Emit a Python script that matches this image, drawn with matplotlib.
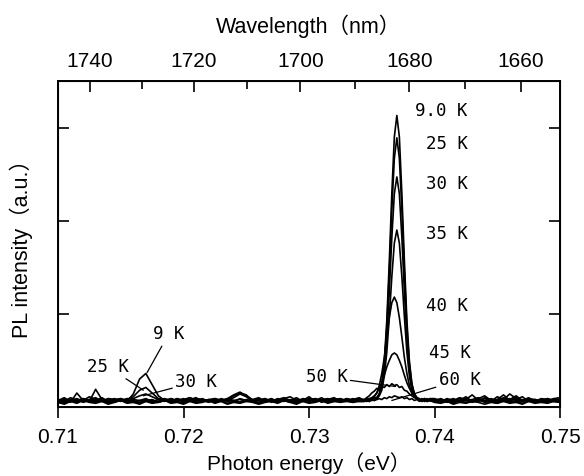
import numpy as np
import matplotlib
matplotlib.use("Agg")
import matplotlib.pyplot as plt

# energy sample grids (eV)
e_low = np.round(np.arange(0.7100, 0.73401, 0.0005), 4)    # 49 pts
e_peak = np.round(np.arange(0.7344, 0.73961, 0.0002), 4)   # 27 pts
e_high = np.round(np.arange(0.7400, 0.75001, 0.0005), 4)   # 21 pts

temps = ["9.0 K", "25 K", "30 K", "35 K", "40 K", "45 K", "50 K", "60 K"]

# low energy side (0.710 - 0.734 eV)
low = {
    "9.0 K": [0.06, 0.09, 0.05, 0.15, 0.07, 0.08, 0.10, 0.06, 0.09, 0.07,
              0.08, 0.06, 0.14, 0.30, 0.36, 0.24, 0.12, 0.07, 0.09, 0.06,
              0.08, 0.10, 0.07, 0.09, 0.06, 0.08, 0.07, 0.09, 0.13, 0.16,
              0.12, 0.08, 0.07, 0.09, 0.06, 0.08, 0.10, 0.07, 0.06, 0.09,
              0.08, 0.07, 0.10, 0.06, 0.08, 0.09, 0.07, 0.08, 0.10],
    "25 K": [0.08, 0.06, 0.10, 0.07, 0.09, 0.06, 0.19, 0.08, 0.07, 0.09,
             0.06, 0.08, 0.11, 0.18, 0.21, 0.15, 0.09, 0.08, 0.06, 0.09,
             0.07, 0.08, 0.10, 0.06, 0.08, 0.09, 0.07, 0.08, 0.12, 0.15,
             0.13, 0.07, 0.09, 0.06, 0.08, 0.07, 0.09, 0.11, 0.07, 0.08,
             0.06, 0.09, 0.07, 0.08, 0.10, 0.06, 0.09, 0.07, 0.08],
    "30 K": [0.07, 0.10, 0.06, 0.08, 0.07, 0.11, 0.08, 0.06, 0.09, 0.08,
             0.07, 0.09, 0.09, 0.12, 0.14, 0.11, 0.08, 0.06, 0.09, 0.07,
             0.08, 0.06, 0.09, 0.08, 0.07, 0.06, 0.09, 0.07, 0.10, 0.14,
             0.11, 0.06, 0.08, 0.07, 0.09, 0.06, 0.08, 0.07, 0.10, 0.06,
             0.09, 0.08, 0.07, 0.06, 0.09, 0.08, 0.07, 0.09, 0.06],
    "35 K": [0.05, 0.08, 0.07, 0.09, 0.06, 0.08, 0.07, 0.10, 0.06, 0.08,
             0.09, 0.07, 0.08, 0.07, 0.09, 0.06, 0.08, 0.09, 0.07, 0.08,
             0.06, 0.10, 0.07, 0.08, 0.06, 0.09, 0.07, 0.08, 0.06, 0.09,
             0.07, 0.08, 0.10, 0.06, 0.08, 0.07, 0.09, 0.06, 0.08, 0.07,
             0.11, 0.06, 0.08, 0.09, 0.07, 0.06, 0.08, 0.07, 0.09],
    "40 K": [0.07, 0.05, 0.08, 0.06, 0.09, 0.07, 0.06, 0.08, 0.05, 0.07,
             0.09, 0.06, 0.07, 0.05, 0.08, 0.07, 0.06, 0.08, 0.05, 0.07,
             0.09, 0.06, 0.08, 0.07, 0.05, 0.07, 0.06, 0.09, 0.07, 0.08,
             0.06, 0.07, 0.05, 0.08, 0.06, 0.09, 0.07, 0.05, 0.08, 0.06,
             0.07, 0.09, 0.05, 0.07, 0.08, 0.06, 0.07, 0.05, 0.08],
    "45 K": [0.04, 0.07, 0.06, 0.08, 0.05, 0.07, 0.09, 0.06, 0.07, 0.05,
             0.08, 0.06, 0.05, 0.07, 0.06, 0.08, 0.05, 0.07, 0.06, 0.09,
             0.05, 0.07, 0.06, 0.08, 0.07, 0.05, 0.08, 0.06, 0.07, 0.05,
             0.08, 0.06, 0.07, 0.09, 0.05, 0.07, 0.06, 0.08, 0.05, 0.07,
             0.06, 0.08, 0.07, 0.05, 0.06, 0.08, 0.07, 0.06, 0.08],
    "50 K": [0.06, 0.04, 0.07, 0.05, 0.08, 0.06, 0.05, 0.07, 0.04, 0.06,
             0.08, 0.05, 0.06, 0.04, 0.07, 0.05, 0.06, 0.08, 0.05, 0.06,
             0.04, 0.07, 0.05, 0.06, 0.08, 0.05, 0.07, 0.04, 0.06, 0.05,
             0.07, 0.06, 0.04, 0.06, 0.07, 0.05, 0.08, 0.06, 0.04, 0.07,
             0.05, 0.06, 0.08, 0.05, 0.07, 0.06, 0.09, 0.07, 0.08],
    "60 K": [0.05, 0.03, 0.06, 0.04, 0.07, 0.05, 0.04, 0.06, 0.03, 0.05,
             0.07, 0.04, 0.05, 0.03, 0.06, 0.04, 0.05, 0.07, 0.04, 0.05,
             0.03, 0.06, 0.04, 0.05, 0.07, 0.04, 0.06, 0.03, 0.05, 0.04,
             0.06, 0.05, 0.03, 0.05, 0.06, 0.04, 0.07, 0.05, 0.03, 0.06,
             0.04, 0.05, 0.07, 0.04, 0.06, 0.05, 0.06, 0.05, 0.06],
}

# main peak region (0.7344 - 0.7396 eV)
peak = {
    "9.0 K": [0.07, 0.09, 0.06, 0.08, 0.10, 0.10, 0.14, 0.25, 0.49, 0.93,
              1.57, 2.29, 2.90, 3.13, 2.90, 2.29, 1.57, 0.93, 0.49, 0.25,
              0.14, 0.10, 0.08, 0.07, 0.09, 0.06, 0.08],
    "25 K": [0.08, 0.06, 0.09, 0.07, 0.08, 0.10, 0.14, 0.24, 0.46, 0.86,
             1.45, 2.12, 2.67, 2.89, 2.67, 2.12, 1.45, 0.86, 0.46, 0.24,
             0.14, 0.10, 0.07, 0.09, 0.06, 0.08, 0.07],
    "30 K": [0.06, 0.08, 0.07, 0.09, 0.07, 0.09, 0.13, 0.21, 0.40, 0.74,
             1.24, 1.82, 2.29, 2.47, 2.29, 1.82, 1.24, 0.74, 0.40, 0.21,
             0.13, 0.09, 0.08, 0.06, 0.08, 0.07, 0.09],
    "35 K": [0.07, 0.06, 0.08, 0.07, 0.08, 0.09, 0.12, 0.18, 0.33, 0.59,
             0.97, 1.40, 1.76, 1.90, 1.76, 1.40, 0.97, 0.59, 0.33, 0.18,
             0.12, 0.09, 0.07, 0.08, 0.06, 0.09, 0.07],
    "40 K": [0.07, 0.08, 0.06, 0.09, 0.11, 0.15, 0.23, 0.36, 0.53, 0.75,
             0.96, 1.12, 1.18, 1.12, 0.96, 0.75, 0.53, 0.36, 0.23, 0.15,
             0.11, 0.09, 0.08, 0.06, 0.09, 0.07, 0.08],
    "45 K": [0.07, 0.08, 0.09, 0.10, 0.12, 0.15, 0.20, 0.26, 0.34, 0.43,
             0.50, 0.56, 0.58, 0.56, 0.50, 0.43, 0.34, 0.26, 0.20, 0.15,
             0.12, 0.10, 0.09, 0.07, 0.08, 0.06, 0.07],
    "50 K": [0.08, 0.10, 0.12, 0.15, 0.17, 0.20, 0.18, 0.22, 0.21, 0.24,
             0.22, 0.25, 0.23, 0.24, 0.21, 0.22, 0.18, 0.17, 0.14, 0.12,
             0.10, 0.09, 0.08, 0.07, 0.09, 0.07, 0.08],
    "60 K": [0.06, 0.07, 0.06, 0.08, 0.07, 0.08, 0.09, 0.08, 0.10, 0.09,
             0.11, 0.10, 0.12, 0.11, 0.10, 0.11, 0.09, 0.10, 0.08, 0.09,
             0.07, 0.08, 0.06, 0.07, 0.08, 0.06, 0.07],
}

# high energy side (0.740 - 0.750 eV)
high = {
    "9.0 K": [0.08, 0.06, 0.09, 0.07, 0.10, 0.08, 0.13, 0.07, 0.09, 0.06,
              0.11, 0.08, 0.14, 0.09, 0.07, 0.10, 0.06, 0.08, 0.07, 0.09, 0.10],
    "25 K": [0.07, 0.09, 0.06, 0.08, 0.07, 0.11, 0.06, 0.09, 0.12, 0.07,
             0.08, 0.13, 0.07, 0.10, 0.06, 0.09, 0.08, 0.06, 0.09, 0.07, 0.08],
    "30 K": [0.09, 0.07, 0.08, 0.06, 0.09, 0.07, 0.08, 0.10, 0.06, 0.09,
             0.07, 0.10, 0.08, 0.12, 0.07, 0.08, 0.06, 0.09, 0.08, 0.06, 0.09],
    "35 K": [0.06, 0.08, 0.07, 0.09, 0.06, 0.08, 0.07, 0.06, 0.10, 0.08,
             0.06, 0.09, 0.07, 0.08, 0.11, 0.06, 0.08, 0.07, 0.09, 0.06, 0.08],
    "40 K": [0.07, 0.06, 0.08, 0.05, 0.07, 0.09, 0.06, 0.08, 0.07, 0.05,
             0.08, 0.06, 0.09, 0.07, 0.06, 0.08, 0.05, 0.07, 0.06, 0.08, 0.07],
    "45 K": [0.06, 0.07, 0.05, 0.08, 0.06, 0.07, 0.05, 0.07, 0.06, 0.08,
             0.05, 0.07, 0.06, 0.05, 0.08, 0.06, 0.07, 0.05, 0.07, 0.06, 0.05],
    "50 K": [0.07, 0.05, 0.06, 0.04, 0.07, 0.05, 0.06, 0.08, 0.05, 0.06,
             0.04, 0.07, 0.05, 0.06, 0.04, 0.07, 0.05, 0.06, 0.05, 0.07, 0.06],
    "60 K": [0.05, 0.04, 0.06, 0.03, 0.05, 0.04, 0.06, 0.05, 0.03, 0.05,
             0.04, 0.06, 0.04, 0.05, 0.03, 0.06, 0.04, 0.05, 0.04, 0.06, 0.05],
}

wl_major = [1740, 1720, 1700, 1680, 1660]
wl_minor = [1730, 1710, 1690, 1670]

fig = plt.figure(figsize=(5.84, 4.76), dpi=100)
ax = fig.add_axes([58/584, 1 - 407/476, 502/584, 326/476])

energy = np.concatenate([e_low, e_peak, e_high])
for t in temps:
    y = np.concatenate([low[t], peak[t], high[t]])
    ax.plot(energy, y, color="black", lw=1.2)

ax.set_xlim(0.71, 0.75)
ax.set_ylim(0, 3.5)
ax.set_xticks([0.71, 0.72, 0.73, 0.74, 0.75])
ax.set_xticklabels(["0.71", "0.72", "0.73", "0.74", "0.75"])
ax.set_yticks([1, 2, 3])
ax.tick_params(axis="x", direction="out", length=8, width=1.2, labelsize=15, pad=7)
ax.tick_params(axis="y", direction="in", length=8, width=1.2, left=True, right=True,
               labelleft=False)
for s in ax.spines.values():
    s.set_linewidth(1.4)

jp = ["Liberation Sans", "Noto Sans CJK JP"]
for lab in ax.get_xticklabels():
    lab.set_family(jp)
ax.set_xlabel("Photon energy（eV）", fontsize=15, family=jp, labelpad=4)
ax.set_ylabel("PL intensity（a.u.）", fontsize=15.5, family=jp, labelpad=18)

# top wavelength axis
ax2 = ax.twiny()
ax2.set_xlim(ax.get_xlim())
ax2.set_xticks([1239.84 / w for w in wl_major])
ax2.set_xticklabels([str(w) for w in wl_major], family=jp)
ax2.set_xticks([1239.84 / w for w in wl_minor], minor=True)
ax2.tick_params(axis="x", which="major", direction="in", length=8, width=1.2,
                labelsize=15, pad=7)
ax2.tick_params(axis="x", which="minor", direction="in", length=6, width=1.2)
ax2.set_xlabel("Wavelength（nm）", fontsize=15.5, family=jp, labelpad=14)

# temperature labels
mono = "DejaVu Sans Mono"
for t, x, y in [("9.0 K", 0.7405, 3.18), ("25 K", 0.7410, 2.82),
                ("30 K", 0.7410, 2.39), ("35 K", 0.7410, 1.86),
                ("40 K", 0.7410, 1.08), ("45 K", 0.7412, 0.58)]:
    ax.text(x, y, t, fontsize=12.5, family=mono, ha="center", va="center")

arrow = dict(arrowstyle="-", lw=0.9, color="black", shrinkA=0, shrinkB=0)
ax.annotate("60 K", xy=(0.7366, 0.07), xytext=(0.7420, 0.29), fontsize=12.5,
            family=mono, ha="center", va="center", arrowprops=arrow)
ax.annotate("50 K", xy=(0.7369, 0.22), xytext=(0.7314, 0.32), fontsize=12.5,
            family=mono, ha="center", va="center", arrowprops=arrow)
ax.annotate("9 K", xy=(0.7171, 0.37), xytext=(0.7188, 0.78), fontsize=12.5,
            family=mono, ha="center", va="center", arrowprops=arrow)
ax.annotate("25 K", xy=(0.7168, 0.18), xytext=(0.7140, 0.43), fontsize=12.5,
            family=mono, ha="center", va="center", arrowprops=arrow)
ax.annotate("30 K", xy=(0.7168, 0.12), xytext=(0.7210, 0.27), fontsize=12.5,
            family=mono, ha="center", va="center", arrowprops=arrow)

fig.savefig("out.png", dpi=100)
